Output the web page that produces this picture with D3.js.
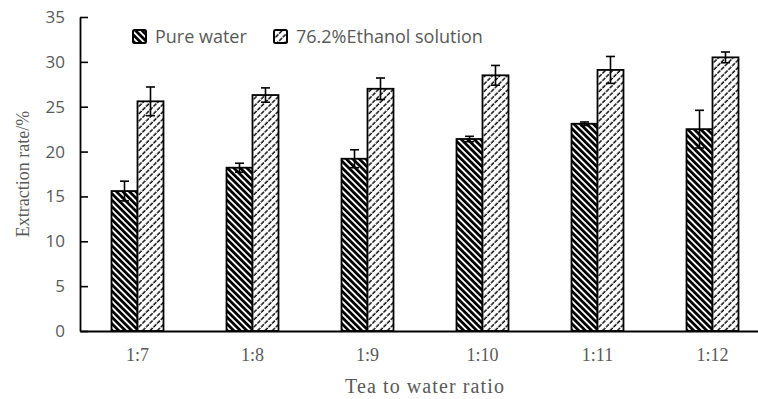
<!DOCTYPE html>
<html>
<head>
<meta charset="utf-8">
<script src="https://cdn.jsdelivr.net/npm/d3@7"></script>
<style>
  body { margin: 0; background: #fff; }
  svg { display: block; }
</style>
</head>
<body>
<div id="chart"></div>
<script>
// values
const ratios = ['1:7', '1:8', '1:9', '1:10', '1:11', '1:12'];
const seriesNames = ['Pure water', '76.2%Ethanol solution'];
const pureWater = [15.6, 18.2, 19.2, 21.4, 23.1, 22.5];
const pureWaterErr = [1.1, 0.5, 1.0, 0.3, 0.2, 2.1];
const ethanol = [25.6, 26.3, 27.0, 28.5, 29.1, 30.5];
const ethanolErr = [1.6, 0.8, 1.2, 1.1, 1.5, 0.6];
const yTicks = [0, 5, 10, 15, 20, 25, 30, 35];

const width = 758;
const height = 399;
const margin = { top: 17, right: -12, bottom: 68, left: 80 };
const textColor = '#595959';

const svg = d3.select('#chart').append('svg')
  .attr('width', width)
  .attr('height', height);

// hatch fills
const defs = svg.append('defs');
const pureFill = defs.append('pattern')
  .attr('id', 'hatch-pure')
  .attr('patternUnits', 'userSpaceOnUse')
  .attr('width', 4.6)
  .attr('height', 4.6)
  .attr('patternTransform', 'rotate(-45)');
pureFill.append('rect').attr('width', 4.6).attr('height', 4.6).attr('fill', '#fff');
pureFill.append('rect').attr('width', 2.8).attr('height', 4.6).attr('fill', '#000');

const ethFill = defs.append('pattern')
  .attr('id', 'hatch-eth')
  .attr('patternUnits', 'userSpaceOnUse')
  .attr('width', 5.2)
  .attr('height', 5.2)
  .attr('patternTransform', 'rotate(45)');
ethFill.append('rect').attr('width', 5.2).attr('height', 5.2).attr('fill', '#fff');
ethFill.append('line')
  .attr('x1', 1).attr('x2', 1).attr('y1', 0).attr('y2', 5.2)
  .attr('stroke', '#000')
  .attr('stroke-width', 1.4)
  .attr('stroke-dasharray', '4.2,1');

const x = d3.scaleBand()
  .domain(ratios)
  .range([margin.left, width - margin.right])
  .padding(0);

const y = d3.scaleLinear()
  .domain([0, 35])
  .range([height - margin.bottom, margin.top]);

const barW = x.bandwidth() * 0.226;

const rows = ratios.map((r, i) => ({
  ratio: r,
  values: [
    { key: 0, value: pureWater[i], err: pureWaterErr[i] },
    { key: 1, value: ethanol[i], err: ethanolErr[i] },
  ],
}));

const groups = svg.append('g')
  .selectAll('g')
  .data(rows)
  .join('g')
  .attr('transform', (d) => `translate(${x(d.ratio) + x.bandwidth() / 2 - barW},0)`);

groups.selectAll('rect')
  .data((d) => d.values)
  .join('rect')
  .attr('x', (d) => d.key * barW)
  .attr('y', (d) => y(d.value))
  .attr('width', barW)
  .attr('height', (d) => y(0) - y(d.value))
  .attr('fill', (d) => (d.key === 0 ? 'url(#hatch-pure)' : 'url(#hatch-eth)'))
  .attr('stroke', '#000')
  .attr('stroke-width', 1.8);

// error bars
const errs = groups.selectAll('g.err')
  .data((d) => d.values)
  .join('g')
  .attr('class', 'err')
  .attr('stroke', '#000')
  .attr('stroke-width', 1.6);

errs.append('line')
  .attr('x1', (d) => d.key * barW + barW / 2)
  .attr('x2', (d) => d.key * barW + barW / 2)
  .attr('y1', (d) => y(d.value - d.err))
  .attr('y2', (d) => y(d.value + d.err));
errs.append('line')
  .attr('x1', (d) => d.key * barW + barW / 2 - 4.5)
  .attr('x2', (d) => d.key * barW + barW / 2 + 4.5)
  .attr('y1', (d) => y(d.value + d.err))
  .attr('y2', (d) => y(d.value + d.err));
errs.append('line')
  .attr('x1', (d) => d.key * barW + barW / 2 - 4.5)
  .attr('x2', (d) => d.key * barW + barW / 2 + 4.5)
  .attr('y1', (d) => y(d.value - d.err))
  .attr('y2', (d) => y(d.value - d.err));

// y axis, ticks pointing inward
const yAxis = svg.append('g')
  .attr('transform', `translate(${margin.left},0)`)
  .call(d3.axisLeft(y).tickValues(yTicks).tickSizeInner(-8).tickSizeOuter(0).tickPadding(15));
yAxis.select('.domain').attr('stroke', '#000').attr('stroke-width', 1.8);
yAxis.selectAll('.tick line').attr('stroke', '#000').attr('stroke-width', 1.6);
yAxis.selectAll('.tick text')
  .attr('fill', textColor)
  .style('font-family', '"Open Sans", sans-serif')
  .style('font-size', '17px');

// x axis
const xAxis = svg.append('g')
  .attr('transform', `translate(0,${y(0)})`)
  .call(d3.axisBottom(x).tickSize(0).tickPadding(17));
xAxis.select('.domain').attr('stroke', '#000').attr('stroke-width', 1.8);
xAxis.selectAll('.tick text')
  .attr('fill', textColor)
  .style('font-family', '"Liberation Serif", serif')
  .style('font-size', '18px');

// axis titles
svg.append('text')
  .attr('x', (margin.left + width - margin.right) / 2)
  .attr('y', 393)
  .attr('text-anchor', 'middle')
  .attr('fill', textColor)
  .style('font-family', '"Liberation Serif", serif')
  .style('font-size', '20px')
  .style('letter-spacing', '1.1px')
  .text('Tea to water ratio');

svg.append('text')
  .attr('transform', `translate(29,${(y(0) + y(35)) / 2}) rotate(-90)`)
  .attr('text-anchor', 'middle')
  .attr('fill', textColor)
  .style('font-family', '"Liberation Serif", serif')
  .style('font-size', '18px')
  .text('Extraction rate/%');

// legend
const legendX = [133, 274];
const legend = svg.append('g')
  .selectAll('g')
  .data(seriesNames)
  .join('g')
  .attr('transform', (d, i) => `translate(${legendX[i]},30)`);
legend.append('rect')
  .attr('width', 13)
  .attr('height', 13)
  .attr('rx', 1.5)
  .attr('fill', (d, i) => (i === 0 ? 'url(#hatch-pure)' : 'url(#hatch-eth)'))
  .attr('stroke', '#000')
  .attr('stroke-width', 2);
legend.append('text')
  .attr('x', 22)
  .attr('y', 13)
  .attr('fill', textColor)
  .style('font-family', '"Open Sans", sans-serif')
  .style('font-size', '18px')
  .text((d) => d);
</script>
</body>
</html>
